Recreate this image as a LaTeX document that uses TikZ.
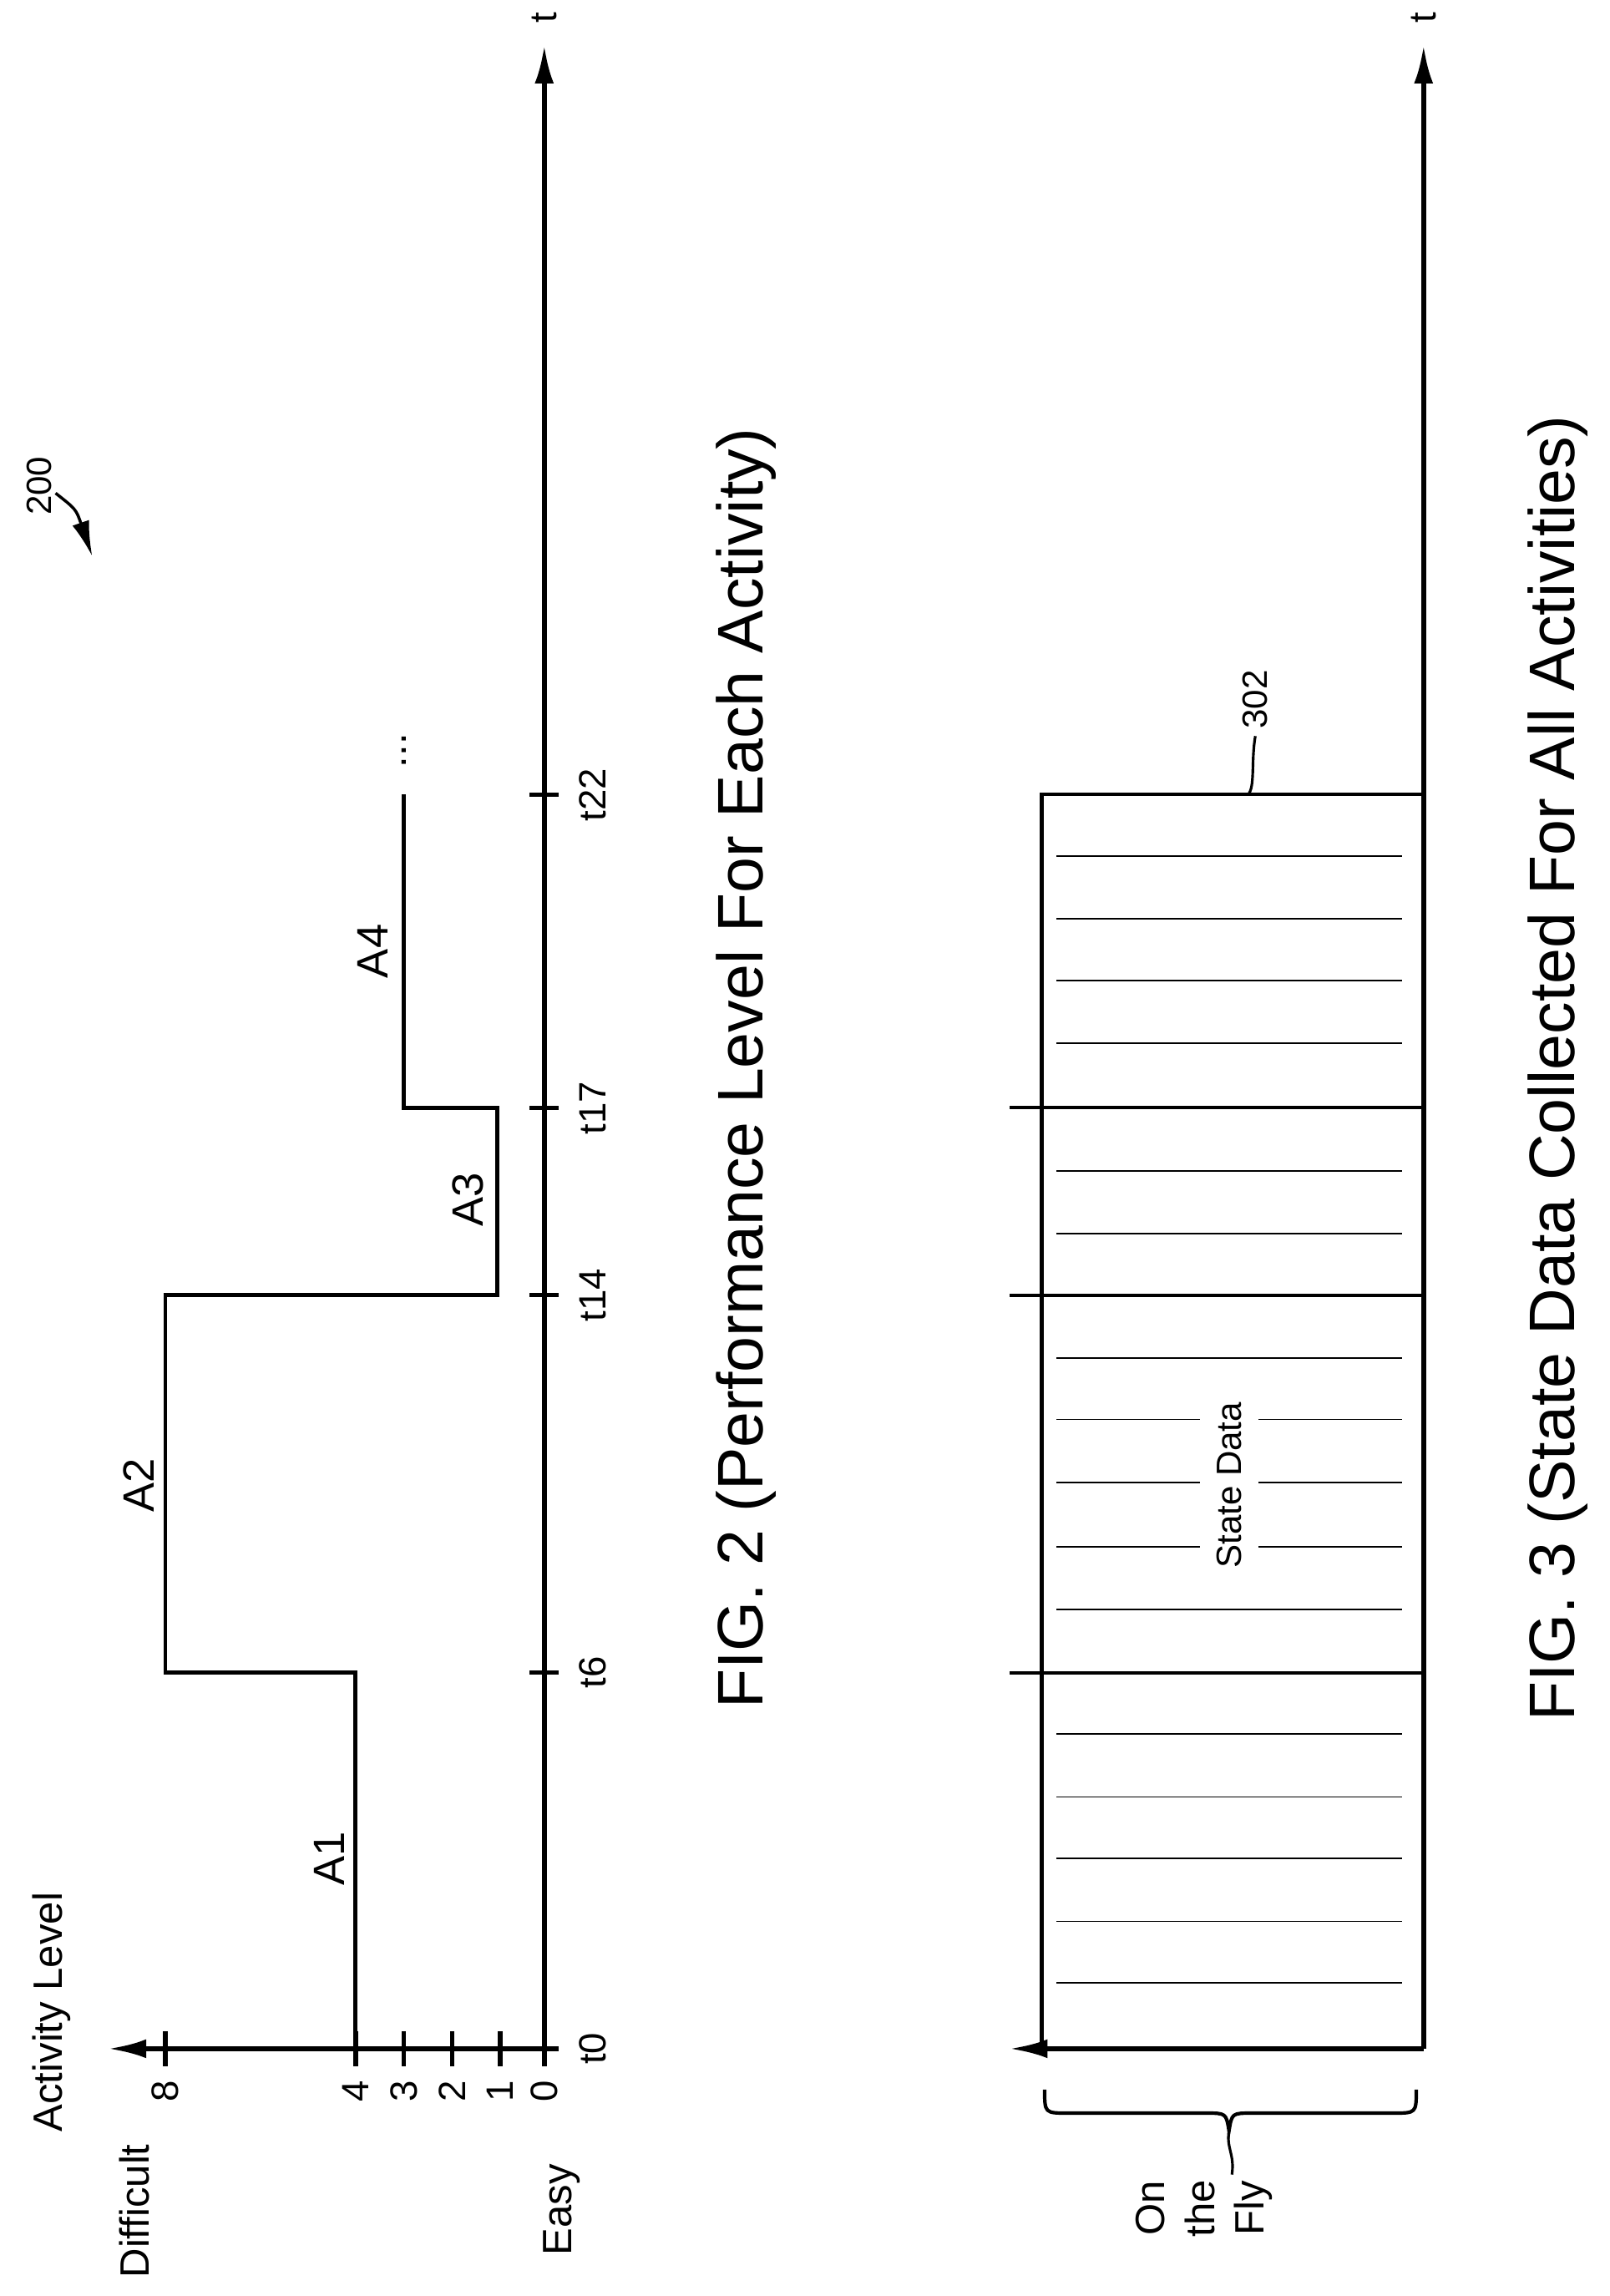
\documentclass[tikz,border=0pt]{standalone}
\usepackage{fontspec}
\setmainfont{Liberation Sans}
\usetikzlibrary{arrows.meta}

\begin{document}
\begin{tikzpicture}[x=0.5pt,y=-0.5pt,>={Latex[length=13pt,width=6.5pt]},
        axis/.style={line width=1.6pt},
        stepline/.style={line width=1.4pt},
        thin line/.style={line width=0.5pt},
        lbl/.style={rotate=90,inner sep=0pt,font=\fontsize{13}{15}\selectfont},
        fig/.style={rotate=90,inner sep=0pt,font=\fontsize{22}{26}\selectfont}]

  \useasboundingbox (0,0) rectangle (1100,1569);

  % FIG. 2
  \coordinate (o2) at (372,1400);
  \coordinate (t2) at (372,31);
  \coordinate (l2) at (74,1400);
  \draw[axis,->] (o2) -- (t2);
  \draw[axis,->] (o2) -- (l2);
  \node[lbl] (tt2) at (372,12) {t};
  \foreach \x/\v in {113/8,243/4,276/3,309/2,342/1,372/0}{
    \draw[axis] (\x,1388) -- (\x,1412);
    \node[lbl] (lv\v) at (\x,1429) {\v};
  }
  \foreach \y/\t in {1400/t0,1143/t6,885/t14,757/t17,543/t22}{
    \draw[axis] (362,\y) -- (382,\y);
    \node[lbl] (\t) at (405,\y) {\t};
  }
  \node[lbl,font=\fontsize{14}{16}\selectfont] (level) at (35,1375) {Activity Level};
  \node[lbl,font=\fontsize{14}{16}\selectfont] (diff) at (92,1511) {Difficult};
  \node[lbl,font=\fontsize{14}{16}\selectfont] (easy) at (384,1510) {Easy};

  \draw[stepline] (243,1400) -- (243,1143) -- (113,1143) -- (113,885)
        -- (340,885) -- (340,757) -- (276,757) -- (276,543);
  \node[lbl,font=\fontsize{14}{16}\selectfont] (dots) at (276,513) {...};
  \node[lbl,font=\fontsize{15}{17}\selectfont] (A1) at (225,1270) {A1};
  \node[lbl,font=\fontsize{15}{17}\selectfont] (A2) at (95,1015) {A2};
  \node[lbl,font=\fontsize{15}{17}\selectfont] (A3) at (320,820) {A3};
  \node[lbl,font=\fontsize{15}{17}\selectfont] (A4) at (255,650) {A4};
  \node[fig] (fig2) at (510,730) {FIG. 2 (Performance Level For Each Activity)};

  % reference 200
  \node[lbl,font=\fontsize{12}{14}\selectfont] (ref200) at (27,332) {200};
  \coordinate (a200) at (63,380);
  \draw[line width=1pt,-{Latex[length=12pt,width=6pt]}] (38,337) .. controls (52,348) .. (a200);

  % FIG. 3
  \coordinate (o3) at (973,1400);
  \coordinate (t3) at (973,31);
  \coordinate (l3) at (690,1400);
  \draw[axis,->] (o3) -- (t3);
  \draw[axis,->] (o3) -- (l3);
  \node[lbl] (tt3) at (973,12) {t};
  \draw[line width=1.2pt] (712,1400) -- (712,543) -- (973,543);
  \foreach \y in {1143,885,757}
    \draw[line width=1.2pt] (690,\y) -- (973,\y);
  \foreach \y in {1185,1228,1270,1313,1355,928,1100,800,843,585,628,670,713}
    \draw[thin line] (722,\y) -- (958,\y);
  \foreach \y in {970,1013,1057}{
    \draw[thin line] (722,\y) -- (820,\y);
    \draw[thin line] (860,\y) -- (958,\y);
  }
  \node[lbl,font=\fontsize{12}{14}\selectfont] (state) at (840,1015) {State Data};
  \node[lbl,font=\fontsize{12}{14}\selectfont] (r302) at (858,478) {302};
  \draw[line width=0.9pt] (853,543) .. controls (858,538) and (855,520) .. (858,503);

  % brace
  \draw[line width=1.2pt] (714,1428) .. controls (714,1444) .. (730,1444) -- (824,1444)
        .. controls (838,1444) .. (840,1456) .. controls (842,1444) .. (856,1444)
        -- (952,1444) .. controls (968,1444) .. (968,1428);
  \draw[line width=0.9pt] (840,1456) .. controls (838,1468) and (844,1472) .. (842,1486);
  \node[lbl,font=\fontsize{14}{17}\selectfont,align=center] (fly) at (823,1509) {On\\the\\Fly};
  \node[fig] (fig3) at (1065,730) {FIG. 3 (State Data Collected For All Activities)};

\end{tikzpicture}
\end{document}
